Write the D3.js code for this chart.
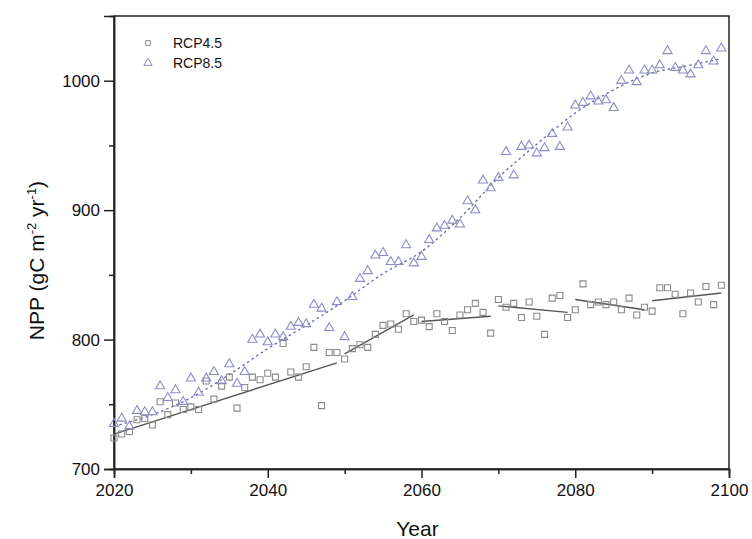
<!DOCTYPE html>
<html lang="en">

<head>
    <meta charset="UTF-8">
    <title>NPP RCP4.5 / RCP8.5</title>
    <style>
        body { margin: 0; background: #fff; }
        text { font-family: "Liberation Sans", Arial, sans-serif; }
    </style>
</head>

<body>
    <div id="my_dataviz"></div>
    <script src="https://d3js.org/d3.v7.min.js"></script>
    <script>

        // years 2020..2099
        var years = d3.range(2020, 2100);

        var rcp45 = [724, 727, 729, 738, 739, 734, 752, 742, 751, 746,
            748, 746, 768, 754, 764, 771, 747, 763, 771, 769,
            774, 771, 797, 775, 771, 779, 794, 749, 790, 790,
            785, 793, 796, 794, 804, 811, 812, 808, 820, 814,
            815, 810, 820, 814, 807, 819, 823, 828, 821, 805,
            831, 825, 828, 817, 829, 818, 804, 832, 834, 817,
            823, 843, 827, 829, 827, 829, 823, 832, 819, 825,
            822, 840, 840, 835, 820, 836, 829, 841, 827, 842];

        var rcp85 = [735, 739, 733, 745, 744, 744, 764, 755, 761, 752,
            770, 759, 770, 775, 768, 781, 766, 775, 800, 804,
            798, 804, 802, 810, 813, 812, 827, 824, 809, 829,
            802, 833, 847, 853, 865, 867, 860, 860, 873, 859,
            864, 877, 886, 888, 892, 889, 907, 900, 923, 917,
            925, 945, 927, 949, 950, 944, 948, 959, 949, 964,
            981, 983, 988, 984, 985, 979, 1000, 1008, 999, 1008,
            1008, 1012, 1023, 1010, 1008, 1005, 1012, 1023, 1015, 1025];

        // RCP4.5 piecewise linear fits: [startYear, startValue, endYear, endValue]
        var fit45 = [
            [2020, 727, 2049, 782],
            [2050, 789, 2059, 819],
            [2060, 814, 2069, 818],
            [2070, 826, 2079, 821],
            [2080, 831, 2089, 823],
            [2090, 830, 2099, 836]
        ];

        // RCP8.5 smooth fit, read every 5 years
        var fit85Years = [2020, 2025, 2030, 2035, 2040, 2045, 2050, 2055, 2060, 2065, 2070, 2075, 2080, 2085, 2090, 2095, 2099];
        var fit85Values = [733, 742, 755, 773, 793, 811, 830, 851, 868, 894, 925, 951, 975, 993, 1006, 1012, 1017];

        var xMajor = [2020, 2040, 2060, 2080, 2100];
        var xMinor = [2030, 2050, 2070, 2090];
        var yMajor = [700, 800, 900, 1000];
        var yMinor = [750, 850, 950];

        var margin = { top: 16, right: 23, bottom: 70, left: 114 },
            width = 752 - margin.left - margin.right,
            height = 539 - margin.top - margin.bottom;

        var svg = d3.select("#my_dataviz")
            .append("svg")
            .attr("width", 752)
            .attr("height", 539)
            .append("g")
            .attr("transform", "translate(" + margin.left + "," + margin.top + ")");

        var x = d3.scaleLinear().domain([2020, 2100]).range([0, width]);
        var y = d3.scaleLinear().domain([700, 1050]).range([height, 0]);

        // frame
        svg.append("rect")
            .attr("width", width)
            .attr("height", height)
            .attr("fill", "none")
            .attr("stroke", "#222")
            .attr("stroke-width", 1.5);

        // axes
        svg.append("g")
            .attr("transform", "translate(0," + height + ")")
            .call(d3.axisBottom(x).tickValues(xMajor).tickSize(9).tickPadding(6).tickFormat(d3.format("d")));
        svg.append("g")
            .attr("transform", "translate(0," + height + ")")
            .call(d3.axisBottom(x).tickValues(xMinor).tickSize(5).tickFormat(""));
        svg.append("g")
            .call(d3.axisLeft(y).tickValues(yMajor).tickSize(10).tickPadding(4).tickFormat(d3.format("d")));
        svg.append("g")
            .call(d3.axisLeft(y).tickValues(yMinor).tickSize(5).tickFormat(""));

        svg.selectAll(".domain").attr("stroke", "#222").attr("stroke-width", 1.5);
        svg.selectAll(".tick line").attr("stroke", "#222").attr("stroke-width", 1.5);
        svg.selectAll(".tick text")
            .attr("font-family", "Liberation Sans, Arial, sans-serif")
            .attr("font-size", 17)
            .attr("fill", "#111");

        // axis titles
        svg.append("text")
            .attr("x", width / 2 - 4)
            .attr("y", height + 67)
            .attr("text-anchor", "middle")
            .attr("font-size", 21)
            .attr("fill", "#111")
            .text("Year");

        var yt = svg.append("text")
            .attr("transform", "translate(" + (-70) + "," + (y(875) + 18) + ")rotate(-90)")
            .attr("text-anchor", "middle")
            .attr("font-size", 21)
            .attr("fill", "#111");
        yt.append("tspan").text("NPP (gC m");
        yt.append("tspan").attr("font-size", 13).attr("dy", -8).text("-2");
        yt.append("tspan").attr("dy", 8).text(" yr");
        yt.append("tspan").attr("font-size", 13).attr("dy", -8).text("-1");
        yt.append("tspan").attr("dy", 8).text(")");

        // RCP8.5 fit (dotted)
        var fit85 = fit85Years.map(function (d, i) { return [d, fit85Values[i]]; });
        svg.append("path")
            .datum(fit85)
            .attr("fill", "none")
            .attr("stroke", "#6464ac")
            .attr("stroke-width", 1.3)
            .attr("stroke-dasharray", "2.5,3")
            .attr("d", d3.line()
                .curve(d3.curveMonotoneX)
                .x(function (d) { return x(d[0]); })
                .y(function (d) { return y(d[1]); }));

        // RCP4.5 fits (solid)
        svg.selectAll("fit45")
            .data(fit45)
            .enter()
            .append("line")
            .attr("x1", function (d) { return x(d[0]); })
            .attr("y1", function (d) { return y(d[1]); })
            .attr("x2", function (d) { return x(d[2]); })
            .attr("y2", function (d) { return y(d[3]); })
            .attr("stroke", "#555")
            .attr("stroke-width", 1.4);

        // points
        var sq = d3.symbol().type(d3.symbolSquare).size(36);
        var tri = d3.symbol().type(d3.symbolTriangle).size(36);

        svg.selectAll("pt45")
            .data(rcp45)
            .enter()
            .append("path")
            .attr("d", sq)
            .attr("transform", function (d, i) { return "translate(" + x(years[i]) + "," + y(d) + ")"; })
            .attr("fill", "none")
            .attr("stroke", "#8a8a8a")
            .attr("stroke-width", 1.1);

        svg.selectAll("pt85")
            .data(rcp85)
            .enter()
            .append("path")
            .attr("d", tri)
            .attr("transform", function (d, i) { return "translate(" + x(years[i]) + "," + y(d) + ")"; })
            .attr("fill", "none")
            .attr("stroke", "#8c8cc4")
            .attr("stroke-width", 1.1);

        // legend
        var legend = [["RCP4.5", d3.symbolSquare, 22, "#8a8a8a"], ["RCP8.5", d3.symbolTriangle, 30, "#8c8cc4"]];
        var lg = svg.selectAll("legend")
            .data(legend)
            .enter()
            .append("g")
            .attr("transform", function (d, i) { return "translate(34," + (27 + i * 20) + ")"; });
        lg.append("path")
            .attr("d", function (d) { return d3.symbol().type(d[1]).size(d[2])(); })
            .attr("fill", "none")
            .attr("stroke", function (d) { return d[3]; })
            .attr("stroke-width", 1);
        lg.append("text")
            .attr("x", 25)
            .attr("y", 5)
            .attr("font-size", 14)
            .attr("fill", "#111")
            .text(function (d) { return d[0]; });

    </script>
</body>

</html>
